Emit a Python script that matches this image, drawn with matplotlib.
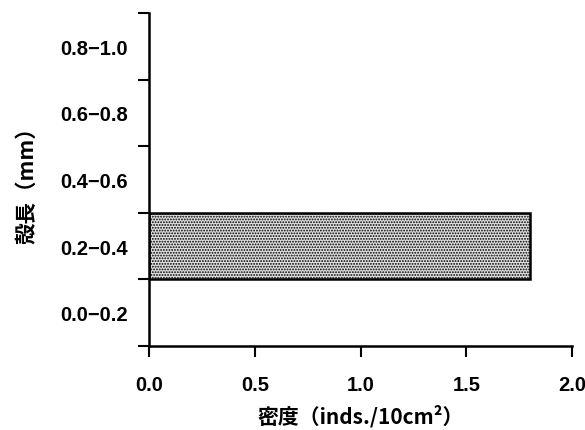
import matplotlib
matplotlib.use("Agg")
import matplotlib.pyplot as plt
import numpy as np

categories = ["0.0−0.2", "0.2−0.4", "0.4−0.6", "0.6−0.8", "0.8−1.0"]
density = [0.0, 1.8, 0.0, 0.0, 0.0]
xticks = [0.0, 0.5, 1.0, 1.5, 2.0]

plt.rcParams['font.family'] = ['Liberation Sans', 'Noto Sans CJK JP', 'DejaVu Sans']
plt.rcParams['hatch.color'] = '#666666'
plt.rcParams['hatch.linewidth'] = 0.9

fig = plt.figure(figsize=(5.85, 4.31), dpi=100)
ax = fig.add_axes([149/585, 1-347/431, (572-149)/585, (347-14)/431])

pos = np.arange(len(categories))
for p, v in zip(pos, density):
    if v > 0:
        ax.barh(p, v, height=1.0, facecolor='#e0e0e0', edgecolor='black',
                linewidth=1.8, hatch='......', zorder=2)

ax.set_xlim(0, 2.0)
ax.set_ylim(-0.5, len(categories) - 0.5)
ax.set_xticks(xticks)
ax.set_xticklabels([f"{t:.1f}" for t in xticks], fontsize=14.5, fontweight='bold')
ax.set_yticks(np.arange(-0.5, len(categories), 1.0))
ax.set_yticklabels([])
ax.set_yticks(pos, minor=True)
ax.set_yticklabels(categories, minor=True, fontsize=14.5, fontweight='bold')
ax.tick_params(axis='y', which='minor', length=0, pad=15)
ax.tick_params(axis='y', which='major', length=8, width=1.5, direction='out')
ax.tick_params(axis='x', length=8, width=1.5, direction='out', pad=13)

for s in ['top', 'right']:
    ax.spines[s].set_visible(False)
for s in ['left', 'bottom']:
    ax.spines[s].set_linewidth(1.8)

ax.set_xlabel("密度（inds./10cm²）", fontsize=15, fontweight='bold',
              family=['Noto Sans CJK JP', 'DejaVu Sans'], labelpad=7)
ax.set_ylabel("殻長（mm）", fontsize=15.5, fontweight='bold',
              family=['Noto Sans CJK JP', 'DejaVu Sans'], labelpad=17)

fig.savefig("out.png", dpi=100)
